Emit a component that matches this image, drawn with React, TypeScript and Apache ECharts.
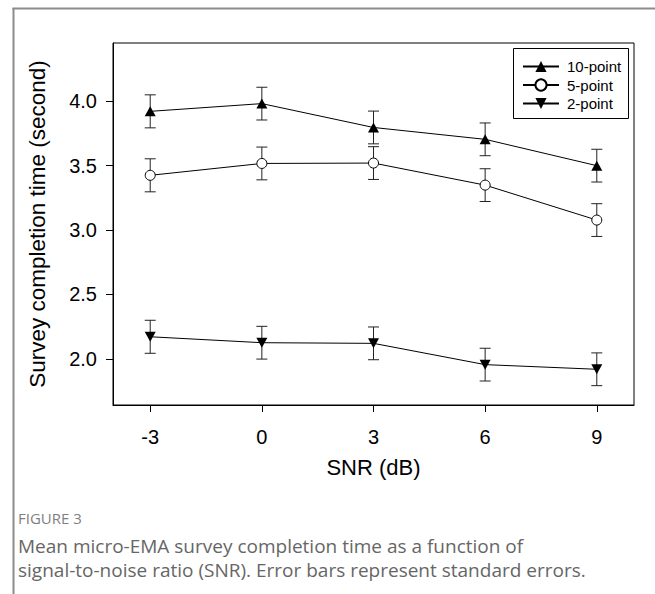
import React, { useEffect, useRef } from "react";
import * as echarts from "echarts";

const snr = [-3, 0, 3, 6, 9];
const xTicks = [-3, 0, 3, 6, 9];
const yTicks = [2.0, 2.5, 3.0, 3.5, 4.0];
const seriesNames = ["10-point", "5-point", "2-point"];
const tenPoint = [3.92, 3.98, 3.795, 3.703, 3.499];
const tenPointSE = [0.128, 0.127, 0.127, 0.127, 0.127];
const fivePoint = [3.424, 3.516, 3.519, 3.348, 3.077];
const fivePointSE = [0.128, 0.127, 0.127, 0.127, 0.127];
const twoPoint = [2.172, 2.126, 2.121, 1.956, 1.92];
const twoPointSE = [0.128, 0.127, 0.127, 0.127, 0.127];
const xAxisTitle = "SNR (dB)";
const yAxisTitle = "Survey completion time (second)";
const figureLabel = "FIGURE 3";
const captionLines = [
  "Mean micro-EMA survey completion time as a function of",
  "signal-to-noise ratio (SNR). Error bars represent standard errors.",
];

const FONT = "'Liberation Sans', Arial, sans-serif";
const CAP_FONT = "'Open Sans', 'Noto Sans', sans-serif";
const DOWN_TRI = "path://M0,0L10,0L5,9Z";

function points(vals: number[]) {
  return snr.map((x, i) => [x, vals[i]]);
}
function errs(vals: number[], se: number[]) {
  return snr.map((x, i) => [x, vals[i] - se[i], vals[i] + se[i]]);
}

function errorSeries(vals: number[], se: number[]) {
  return {
    type: "custom",
    z: 1,
    silent: true,
    encode: { x: 0, y: [1, 2] },
    data: errs(vals, se),
    renderItem: (_params: any, api: any) => {
      const x = api.value(0);
      const lo = api.coord([x, api.value(1)]);
      const hi = api.coord([x, api.value(2)]);
      const hw = 5.5;
      const st = { stroke: "#222", lineWidth: 1 };
      return {
        type: "group",
        children: [
          { type: "line", shape: { x1: lo[0], y1: lo[1], x2: hi[0], y2: hi[1] }, style: st },
          { type: "line", shape: { x1: lo[0] - hw, y1: lo[1], x2: lo[0] + hw, y2: lo[1] }, style: st },
          { type: "line", shape: { x1: hi[0] - hw, y1: hi[1], x2: hi[0] + hw, y2: hi[1] }, style: st },
        ],
      };
    },
  };
}

function lineSeries(name: string, vals: number[], symbol: string, fill: string, size: number | number[]) {
  return {
    type: "line",
    name,
    z: 3,
    data: points(vals),
    symbol,
    symbolSize: size,
    showAllSymbol: true,
    itemStyle: { color: fill, borderColor: "#000", borderWidth: fill === "#fff" ? 1 : 0 },
    lineStyle: { color: "#000", width: 1 },
    emphasis: { disabled: true },
  };
}

export default function App() {
  const ref = useRef<HTMLDivElement>(null);
  useEffect(() => {
    if (!ref.current) return;
    const chart = echarts.init(ref.current, undefined, { renderer: "svg" });
    chart.setOption({
      animation: false,
      backgroundColor: "#fff",
      grid: {
        left: 113,
        right: 21,
        top: 43,
        bottom: 189,
        show: true,
        borderColor: "#000",
        borderWidth: 1,
        backgroundColor: "transparent",
      },
      xAxis: {
        type: "value",
        min: -4,
        max: 10,
        name: xAxisTitle,
        nameLocation: "middle",
        nameGap: 51,
        nameTextStyle: { fontFamily: FONT, fontSize: 22, color: "#000" },
        axisLine: { show: true, onZero: false, lineStyle: { color: "#000", width: 1 } },
        axisTick: { show: true, customValues: xTicks, length: 7, inside: false, lineStyle: { color: "#000" } },
        axisLabel: {
          customValues: xTicks,
          margin: 22,
          fontFamily: FONT,
          fontSize: 20,
          color: "#000",
          formatter: (v: number) => String(v),
        },
        splitLine: { show: false },
      },
      yAxis: {
        type: "value",
        min: 1.643,
        max: 4.45,
        name: yAxisTitle,
        nameLocation: "middle",
        nameGap: 64,
        nameRotate: 90,
        nameTextStyle: { fontFamily: FONT, fontSize: 22.5, color: "#000" },
        axisLine: { show: true, onZero: false, lineStyle: { color: "#000", width: 1 } },
        axisTick: { show: true, customValues: yTicks, length: 7, inside: false, lineStyle: { color: "#000" } },
        axisLabel: {
          customValues: yTicks,
          margin: 16,
          fontFamily: FONT,
          fontSize: 20,
          color: "#000",
          formatter: (v: number) => v.toFixed(1),
        },
        splitLine: { show: false },
      },
      legend: {
        orient: "vertical",
        left: 522,
        top: 59,
        itemWidth: 36,
        itemHeight: 14,
        itemGap: 3.5,
        padding: 0,
        data: seriesNames,
        textStyle: { fontFamily: FONT, fontSize: 15, color: "#000", padding: [0, 0, 0, 3] },
      },
      graphic: [
        {
          type: "rect",
          shape: { x: 513.5, y: 48.5, width: 115, height: 70 },
          style: { fill: "none", stroke: "#000", lineWidth: 1 },
          z: 10,
        },
        {
          type: "line",
          shape: { x1: 13.5, y1: 8, x2: 13.5, y2: 594 },
          style: { stroke: "#8c8c8c", lineWidth: 2 },
        },
        {
          type: "line",
          shape: { x1: 12.5, y1: 8.5, x2: 655, y2: 8.5 },
          style: { stroke: "#8c8c8c", lineWidth: 2 },
        },
        {
          type: "text",
          x: 18,
          y: 518,
          style: { text: figureLabel, fontFamily: CAP_FONT, fontSize: 15, fill: "#808080", verticalAlign: "middle" },
        },
        {
          type: "text",
          x: 18,
          y: 546,
          style: { text: captionLines[0], fontFamily: CAP_FONT, fontSize: 19, lineHeight: 22, fill: "#666", verticalAlign: "middle" },
        },
        {
          type: "text",
          x: 18,
          y: 570,
          style: { text: captionLines[1], fontFamily: CAP_FONT, fontSize: 19, lineHeight: 22, fill: "#666", verticalAlign: "middle" },
        },
      ],
      series: [
        errorSeries(tenPoint, tenPointSE),
        errorSeries(fivePoint, fivePointSE),
        errorSeries(twoPoint, twoPointSE),
        lineSeries(seriesNames[0], tenPoint, "triangle", "#000", [11, 10]),
        lineSeries(seriesNames[1], fivePoint, "circle", "#fff", 10),
        lineSeries(seriesNames[2], twoPoint, DOWN_TRI, "#000", [11, 10]),
      ],
    });
    return () => chart.dispose();
  }, []);
  return (
    <div
      ref={ref}
      style={{ position: "fixed", left: 0, top: 0, width: 655, height: 594, background: "#fff" }}
    />
  );
}
